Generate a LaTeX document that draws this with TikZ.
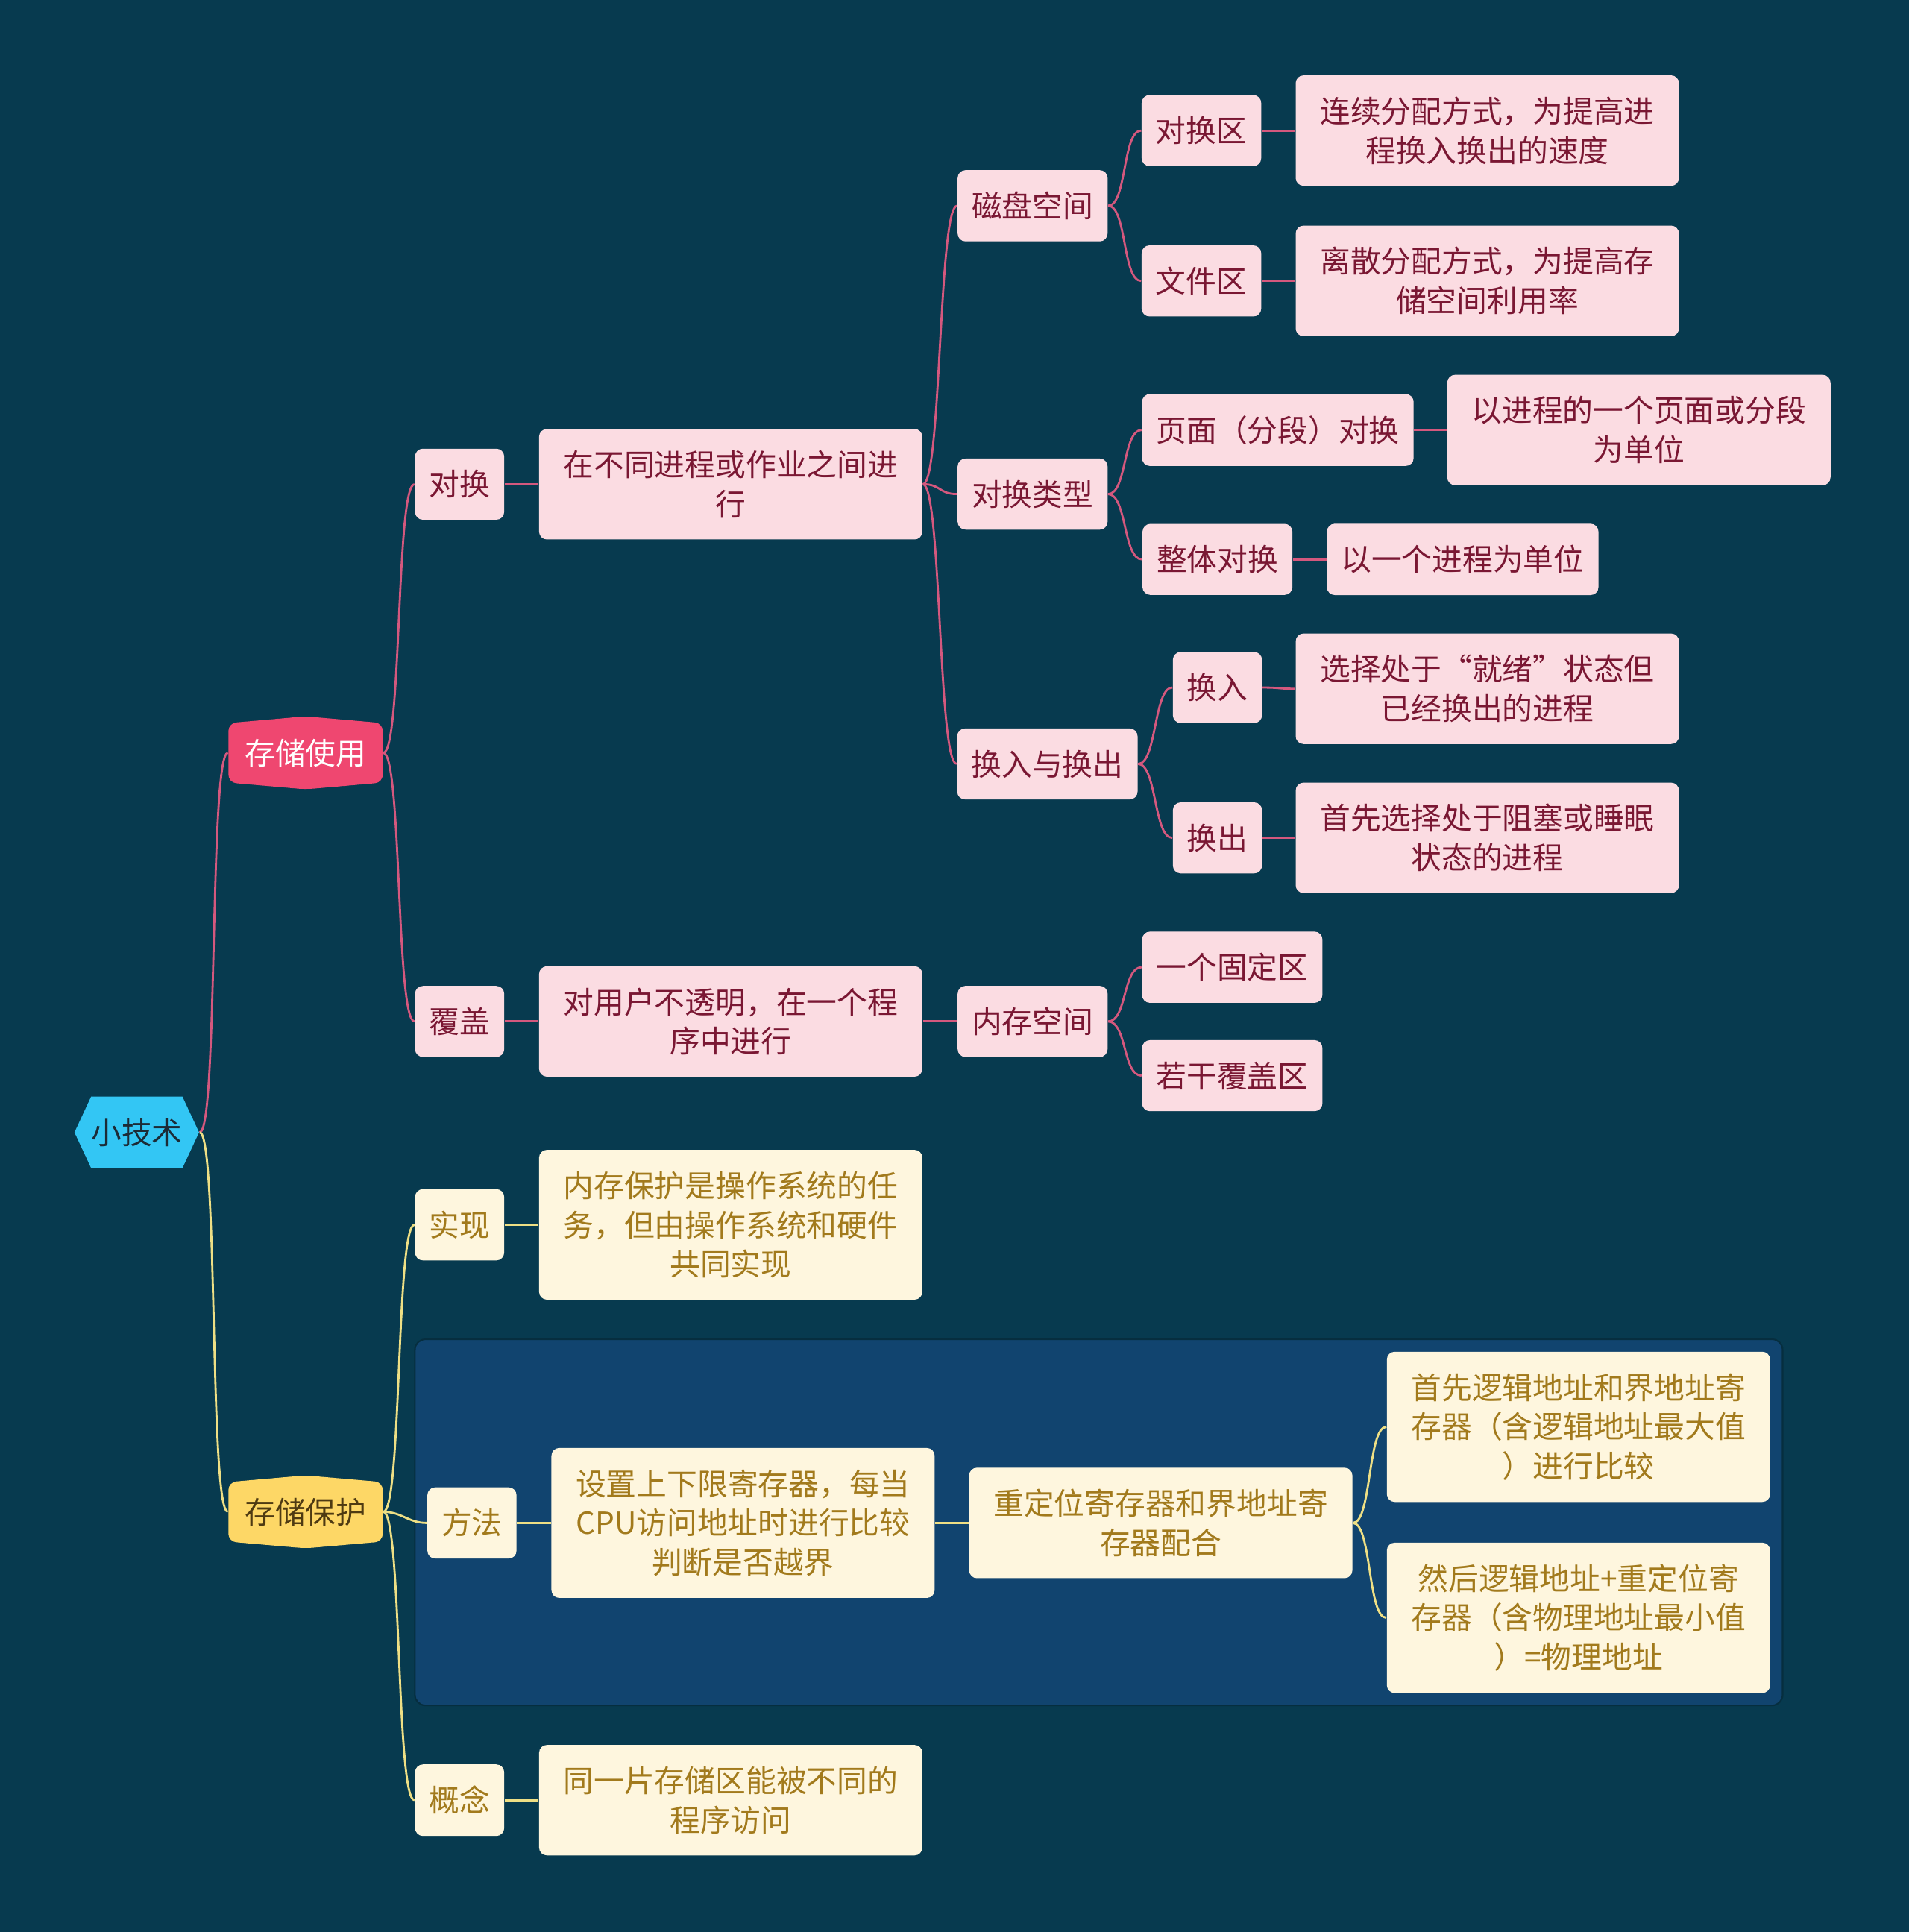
\documentclass[tikz,border=0pt]{standalone}
\usepackage{fontspec}
\setmainfont{Noto Sans CJK SC}
\usepackage{tikz}
\usetikzlibrary{positioning,fit,backgrounds,shapes.symbols}
\definecolor{bg}{HTML}{073A4F}
\definecolor{rootc}{HTML}{33C6F4}
\definecolor{rootink}{HTML}{1C2B36}
\definecolor{rosec}{HTML}{EF4770}
\definecolor{goldc}{HTML}{FDD766}
\definecolor{goldtop}{HTML}{4E3A12}
\definecolor{rosefill}{HTML}{FBDCE2}
\definecolor{roseink}{HTML}{7A1733}
\definecolor{goldfill}{HTML}{FEF6DE}
\definecolor{goldink}{HTML}{A27A1C}
\definecolor{roseline}{HTML}{D4587E}
\definecolor{goldline}{HTML}{EEDF85}
\definecolor{panel}{HTML}{11446F}
\tikzset{
  txt/.style={font=\fontsize{11.6}{15}\selectfont},
  rootbox/.style={txt,signal,signal to=east and west,signal pointer angle=130,fill=rootc,text=rootink,minimum width=1.62cm,minimum height=0.96cm,inner sep=0pt},
  mainbox/.style={txt,signal,signal to=north and south,signal pointer angle=170,rounded corners=3pt,minimum width=2.07cm,minimum height=0.94cm,inner sep=0pt},
  rbox/.style={txt,rounded corners=3pt,fill=rosefill,text=roseink,align=center,inner xsep=0.19cm,inner ysep=8.2pt,minimum height=0.93cm},
  ybox/.style={txt,rounded corners=3pt,fill=goldfill,text=goldink,align=center,inner xsep=0.19cm,inner ysep=8.2pt,minimum height=0.93cm},
  wide/.style={minimum width=5.14cm},
  rlink/.style={draw=roseline,line width=0.8pt,out=0,in=180,distance=0.25cm},
  ylink/.style={draw=goldline,line width=0.8pt,out=0,in=180,distance=0.25cm}}
\begin{document}
\begin{tikzpicture}[x=0.016527cm,y=-0.016527cm]
% root and main topics
\node[rootbox] (root) at (111,919) {小技术};
\node[mainbox,fill=rosec,text=white] (use) at (248,611) {存储使用};
\node[mainbox,fill=goldc,text=goldtop] (guard) at (248,1227) {存储保护};
% 存储使用
\node[rbox] (swap) at (373,393) {对换};
\node[rbox,wide] (swapdesc) at (593,393) {在不同进程或作业之间进\\行};
\node[rbox] (disk) at (838,167) {磁盘空间};
\node[rbox] (kind) at (838,401) {对换类型};
\node[rbox] (inout) at (850,620) {换入与换出};
\node[rbox] (area) at (975,106) {对换区};
\node[rbox] (file) at (975,228) {文件区};
\node[rbox,wide] (areadesc) at (1207,106) {连续分配方式，为提高进\\程换入换出的速度};
\node[rbox,wide] (filedesc) at (1207,228) {离散分配方式，为提高存\\储空间利用率};
\node[rbox] (page) at (1037,349) {页面（分段）对换};
\node[rbox,wide] (pagedesc) at (1330,349) {以进程的一个页面或分段\\为单位};
\node[rbox] (whole) at (988,454) {整体对换};
\node[rbox] (wholedesc) at (1187,454) {以一个进程为单位};
\node[rbox] (in) at (988,558) {换入};
\node[rbox,wide] (indesc) at (1207,559) {选择处于“就绪”状态但\\已经换出的进程};
\node[rbox] (out) at (988,680) {换出};
\node[rbox,wide] (outdesc) at (1207,680) {首先选择处于阻塞或睡眠\\状态的进程};
\node[rbox] (cover) at (373,829) {覆盖};
\node[rbox,wide] (coverdesc) at (593,829) {对用户不透明，在一个程\\序中进行};
\node[rbox] (mem) at (838,829) {内存空间};
\node[rbox] (fixed) at (1000,785) {一个固定区};
\node[rbox] (over) at (1000,873) {若干覆盖区};
% 存储保护
\node[ybox] (impl) at (373,994) {实现};
\node[ybox,wide] (impldesc) at (593,994) {内存保护是操作系统的任\\务，但由操作系统和硬件\\共同实现};
\node[ybox] (method) at (383,1236) {方法};
\node[ybox,wide] (methoddesc) at (603,1236) {设置上下限寄存器，每当\\CPU访问地址时进行比较\\判断是否越界};
\node[ybox,wide] (reloc) at (942,1236) {重定位寄存器和界地址寄\\存器配合};
\node[ybox,wide] (first) at (1281,1158) {首先逻辑地址和界地址寄\\存器（含逻辑地址最大值\\）进行比较};
\node[ybox,wide] (then) at (1281,1313) {然后逻辑地址+重定位寄\\存器（含物理地址最小值\\）=物理地址};
\node[ybox] (idea) at (373,1461) {概念};
\node[ybox,wide] (ideadesc) at (593,1461) {同一片存储区能被不同的\\程序访问};
\begin{scope}[on background layer]
\fill[bg] (0,0) rectangle (1549,1568);
\node[fit=(method)(first)(then),inner sep=0.16cm,rounded corners=4pt,fill=panel,draw=bg!80!black,line width=0.6pt] (methodpanel) {};
\end{scope}
% links
\draw[rlink] (root.east) to (use.west);
\draw[ylink] (root.east) to (guard.west);
\draw[rlink] (use.east) to (swap.west); \draw[rlink] (use.east) to (cover.west);
\draw[rlink] (swap) to (swapdesc);
\draw[rlink] (swapdesc.east) to (disk.west); \draw[rlink] (swapdesc.east) to (kind.west); \draw[rlink] (swapdesc.east) to (inout.west);
\draw[rlink] (disk.east) to (area.west); \draw[rlink] (disk.east) to (file.west);
\draw[rlink] (area) to (areadesc); \draw[rlink] (file) to (filedesc);
\draw[rlink] (kind.east) to (page.west); \draw[rlink] (kind.east) to (whole.west);
\draw[rlink] (page) to (pagedesc); \draw[rlink] (whole) to (wholedesc);
\draw[rlink] (inout.east) to (in.west); \draw[rlink] (inout.east) to (out.west);
\draw[rlink] (in) to (indesc); \draw[rlink] (out) to (outdesc);
\draw[rlink] (cover) to (coverdesc); \draw[rlink] (coverdesc) to (mem);
\draw[rlink] (mem.east) to (fixed.west); \draw[rlink] (mem.east) to (over.west);
\draw[ylink] (guard.east) to (impl.west); \draw[ylink] (guard.east) to (method.west); \draw[ylink] (guard.east) to (idea.west);
\draw[ylink] (impl) to (impldesc);
\draw[ylink] (method) to (methoddesc); \draw[ylink] (methoddesc) to (reloc);
\draw[ylink] (reloc.east) to (first.west); \draw[ylink] (reloc.east) to (then.west);
\draw[ylink] (idea) to (ideadesc);
\end{tikzpicture}
\end{document}
